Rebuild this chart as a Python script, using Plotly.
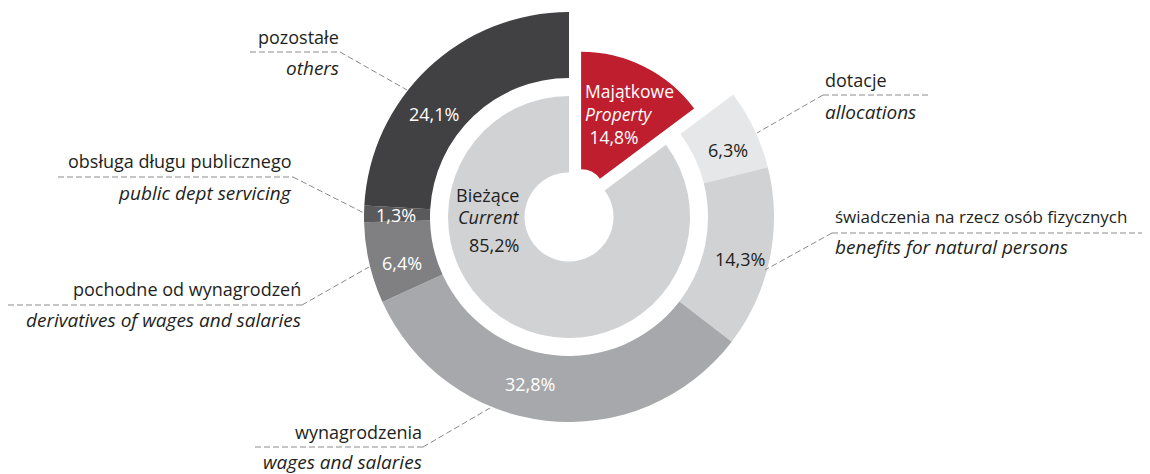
"""Structure of budget expenditure - nested donut with pulled property slice"""

import math
import plotly.graph_objects as go

W, H = 1150, 474
# the page body keeps its default 8px margin, so pixel positions are shifted by it
OFFSET = 8

# outer ring - parts of current expenditure (share of total, %)
OUTER_PL = ["dotacje", "świadczenia na rzecz osób fizycznych", "wynagrodzenia",
            "pochodne od wynagrodzeń", "obsługa długu publicznego", "pozostałe"]
OUTER_EN = ["allocations", "benefits for natural persons", "wages and salaries",
            "derivatives of wages and salaries", "public dept servicing", "others"]
OUTER_VALUES = [6.3, 14.3, 32.8, 6.4, 1.3, 24.1]

# inner split of total expenditure
INNER_PL = ["Majątkowe", "Bieżące"]
INNER_EN = ["Property", "Current"]
INNER_VALUES = [14.8, 85.2]

OUTER_COLORS = ["#e6e7e8", "#d1d2d4", "#a7a8ab", "#808083", "#5a5a5c", "#414042"]
OUTER_TEXT_COLORS = ["#231f20", "#231f20", "white", "white", "white", "white"]
CURRENT_COLOR = "#d1d2d4"
PROPERTY_COLOR = "#be1e2d"
CLEAR = "rgba(0,0,0,0)"
TEXT = "#231f20"
LINE = "#8a8a8a"
FONT = "Open Sans"

# geometry in pixels of the picture
CX, CY = 569, 217
R_OUT, R_RING_IN = 205, 139
R_INNER, R_HOLE = 121, 44.5
R_RED, R_RED_HOLE = 141, 23.5
PULL_PX = 27


def dom(cx, cy, r):
    """pie domain (paper) for a circle given in pixels"""
    cx, cy = cx - OFFSET, cy - OFFSET
    return dict(x=[(cx - r) / W, (cx + r) / W], y=[1 - (cy + r) / H, 1 - (cy - r) / H])


def px(x, y):
    return (x - OFFSET) / W, 1 - (y - OFFSET) / H


def pct(v):
    return f"{v:.1f}".replace(".", ",") + "%"


fig = go.Figure()

# outer ring, the property part stays empty
fig.add_trace(go.Pie(
    values=[INNER_VALUES[0]] + OUTER_VALUES,
    marker=dict(colors=[CLEAR] + OUTER_COLORS, line=dict(width=0)),
    hole=R_RING_IN / R_OUT, sort=False, direction="clockwise", rotation=0,
    textinfo="none", hoverinfo="skip", showlegend=False,
    domain=dom(CX, CY, R_OUT),
))

# inner pie - current expenditure
fig.add_trace(go.Pie(
    values=INNER_VALUES,
    marker=dict(colors=[CLEAR, CURRENT_COLOR], line=dict(width=0)),
    hole=R_HOLE / R_INNER, sort=False, direction="clockwise", rotation=0,
    textinfo="none", hoverinfo="skip", showlegend=False,
    domain=dom(CX, CY, R_INNER),
))

# property slice pulled out along its bisector
mid = math.radians(INNER_VALUES[0] / sum(INNER_VALUES) * 360 / 2)
rcx = CX + PULL_PX * math.sin(mid)
rcy = CY - PULL_PX * math.cos(mid)
fig.add_trace(go.Pie(
    values=INNER_VALUES,
    marker=dict(colors=[PROPERTY_COLOR, CLEAR], line=dict(width=0)),
    hole=R_RED_HOLE / R_RED, sort=False, direction="clockwise", rotation=0,
    textinfo="none", hoverinfo="skip", showlegend=False,
    domain=dom(rcx, rcy, R_RED),
))

annotations = []


def add_text(x, y, text, xanchor="center", color=TEXT, size=18):
    ax, ay = px(x, y)
    annotations.append(dict(
        xref="paper", yref="paper", x=ax, y=ay, text=text,
        xanchor=xanchor, yanchor="middle", align=xanchor if xanchor != "center" else "center",
        showarrow=False, borderpad=0,
        font=dict(family=FONT, size=size, color=color),
    ))


# percentages in the ring
PCT_POS = [(728, 150), (740, 259), (530, 384), (402, 263), (396, 215), (434, 114)]
for v, (x, y), c in zip(OUTER_VALUES, PCT_POS, OUTER_TEXT_COLORS):
    add_text(x, y, pct(v), color=c)

# inner labels
add_text(520, 195, INNER_PL[1], xanchor="right")
add_text(521, 217, f"<i>{INNER_EN[1]}</i>", xanchor="right")
add_text(520, 245, pct(INNER_VALUES[1]), xanchor="right")

add_text(584, 114, f"{INNER_PL[0]}<br><i>{INNER_EN[0]}</i><br>&nbsp;{pct(INNER_VALUES[0])}",
         xanchor="left", color="white", size=17.5)

# outer labels: text x, polish y, english y, dashed line (x0, x1, y), ring point, side, polish size
LABEL_POS = [
    (824, 80, 112, (823, 930, 95), (757, 133), "left", 18),
    (834, 216, 247, (832, 1148, 233), (765, 270), "left", 17),
    (423, 432, 461.5, (255, 423, 447), (490, 408), "right", 18),
    (302, 289, 320, (8, 302, 305), (369, 267), "right", 18),
    (293, 161, 193, (58, 293, 177), (364, 213), "right", 18),
    (340, 37, 68, (250, 340, 52), (407, 90), "right", 18),
]

shapes = []
for pl, en, (tx, ypl, yen, (x0, x1, yl), (ex, ey), side, fs) in zip(OUTER_PL, OUTER_EN, LABEL_POS):
    add_text(tx, ypl, pl, xanchor=side, size=fs)
    add_text(tx, yen, f"<i>{en}</i>", xanchor=side, size=19)
    sx = x0 if side == "left" else x1
    for (a, b), (c, d) in [((x0, yl), (x1, yl)), ((sx, yl), (ex, ey))]:
        p0, p1 = px(a, b), px(c, d)
        shapes.append(dict(
            type="line", xref="paper", yref="paper",
            x0=p0[0], y0=p0[1], x1=p1[0], y1=p1[1],
            line=dict(color=LINE, width=1, dash="6px,3px"),
        ))

fig.update_layout(
    width=W, height=H,
    margin=dict(l=0, r=0, t=0, b=0),
    paper_bgcolor="white", plot_bgcolor="white",
    annotations=annotations, shapes=shapes,
    showlegend=False,
)

fig.write_html("out.html")
